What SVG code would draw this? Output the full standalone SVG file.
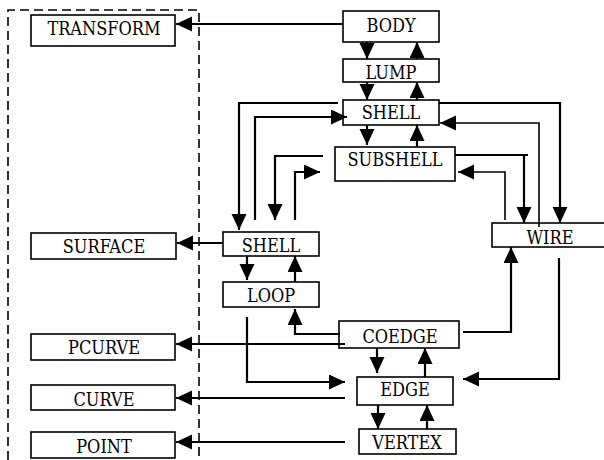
<svg xmlns="http://www.w3.org/2000/svg" width="604" height="460" viewBox="0 0 604 460">
<style>
.box{fill:#fff;stroke:#000;stroke-width:1.6}
.lbl{font-family:'DejaVu Serif Condensed','DejaVu Serif','Liberation Serif',serif;font-stretch:condensed;font-size:18px;fill:#000;text-anchor:middle}
.c{fill:none;stroke:#000;stroke-width:2.2}
.t{fill:none;stroke:#000;stroke-width:1.6}
.a{marker-end:url(#ah)}
.dash{fill:none;stroke:#000;stroke-width:1.6;stroke-dasharray:9,5}
</style>
<defs>
<marker id="ah" markerUnits="userSpaceOnUse" markerWidth="17" markerHeight="16" refX="16" refY="7.5" orient="auto">
<path d="M0,0 L16,7.5 L0,15 z" fill="#000"/>
</marker>
</defs>
<path class="dash" d="M8,460 V10 H199 V460"/>
<g id="transform"><rect class="box" x="31" y="15" width="144" height="31"/><text class="lbl" x="104" y="35">TRANSFORM</text></g>
<g id="body"><rect class="box" x="343" y="11" width="96" height="31"/><text class="lbl" x="391" y="32">BODY</text></g>
<g id="lump"><rect class="box" x="343" y="59" width="96" height="23"/><text class="lbl" x="391" y="79">LUMP</text></g>
<g id="shell-top"><rect class="box" x="343" y="100" width="96" height="25"/><text class="lbl" x="391" y="119">SHELL</text></g>
<g id="subshell"><rect class="box" x="335" y="147" width="120" height="34"/><text class="lbl" x="395" y="166">SUBSHELL</text></g>
<g id="wire"><rect class="box" x="492" y="223" width="115" height="24"/><text class="lbl" x="550" y="244">WIRE</text></g>
<g id="surface"><rect class="box" x="31" y="233" width="145" height="26"/><text class="lbl" x="104" y="253">SURFACE</text></g>
<g id="shell-mid"><rect class="box" x="223" y="232" width="96" height="24"/><text class="lbl" x="271" y="252">SHELL</text></g>
<g id="loop"><rect class="box" x="223" y="282" width="96" height="25"/><text class="lbl" x="271" y="302">LOOP</text></g>
<g id="coedge"><rect class="box" x="339" y="321" width="120" height="27"/><text class="lbl" x="400" y="343">COEDGE</text></g>
<g id="edge"><rect class="box" x="357" y="377" width="96" height="28"/><text class="lbl" x="405" y="396">EDGE</text></g>
<g id="vertex"><rect class="box" x="359" y="429" width="97" height="25"/><text class="lbl" x="407" y="449">VERTEX</text></g>
<g id="pcurve"><rect class="box" x="31" y="334" width="144" height="26"/><text class="lbl" x="104" y="354">PCURVE</text></g>
<g id="curve"><rect class="box" x="31" y="385" width="144" height="25"/><text class="lbl" x="104" y="406">CURVE</text></g>
<g id="point"><rect class="box" x="31" y="432" width="144" height="26"/><text class="lbl" x="104" y="453">POINT</text></g>
<g id="connectors">
<path class="c a" d="M343,24 H176"/>
<path class="c a" d="M367,42 V59"/>
<path class="c a" d="M417,59 V42"/>
<path class="c a" d="M367,82 V100"/>
<path class="c a" d="M417,100 V82"/>
<path class="c a" d="M367,125 V145"/>
<path class="c a" d="M417,147 V125"/>
<path class="c a" d="M338,103 H239 V230"/>
<path class="c a" d="M255,220 V117 H347"/>
<path class="c a" d="M323,156 H275 V220"/>
<path class="c a" d="M295,220 V172 H320"/>
<path class="c a" d="M439,103 H560 V223"/>
<path class="t a" d="M539,227 V123 H440"/>
<path class="c" d="M455,155 H528"/>
<path class="c a" d="M524,155 V223"/>
<path class="t a" d="M505,220 V172 H458"/>
<path class="c a" d="M223,243 H177"/>
<path class="c a" d="M247,256 V280"/>
<path class="c a" d="M295,282 V256"/>
<path class="c a" d="M247,317 V382 H345"/>
<path class="c a" d="M340,334 H295 V309"/>
<path class="c a" d="M345,344 H176"/>
<path class="c a" d="M463,332 H511 V247"/>
<path class="c a" d="M559,258 V379 H463"/>
<path class="c a" d="M377,348 V373"/>
<path class="c a" d="M425,377 V348"/>
<path class="c a" d="M345,398 H176"/>
<path class="c a" d="M378,405 V429"/>
<path class="c a" d="M427,429 V405"/>
<path class="c a" d="M345,442 H176"/>
</g>
</svg>
